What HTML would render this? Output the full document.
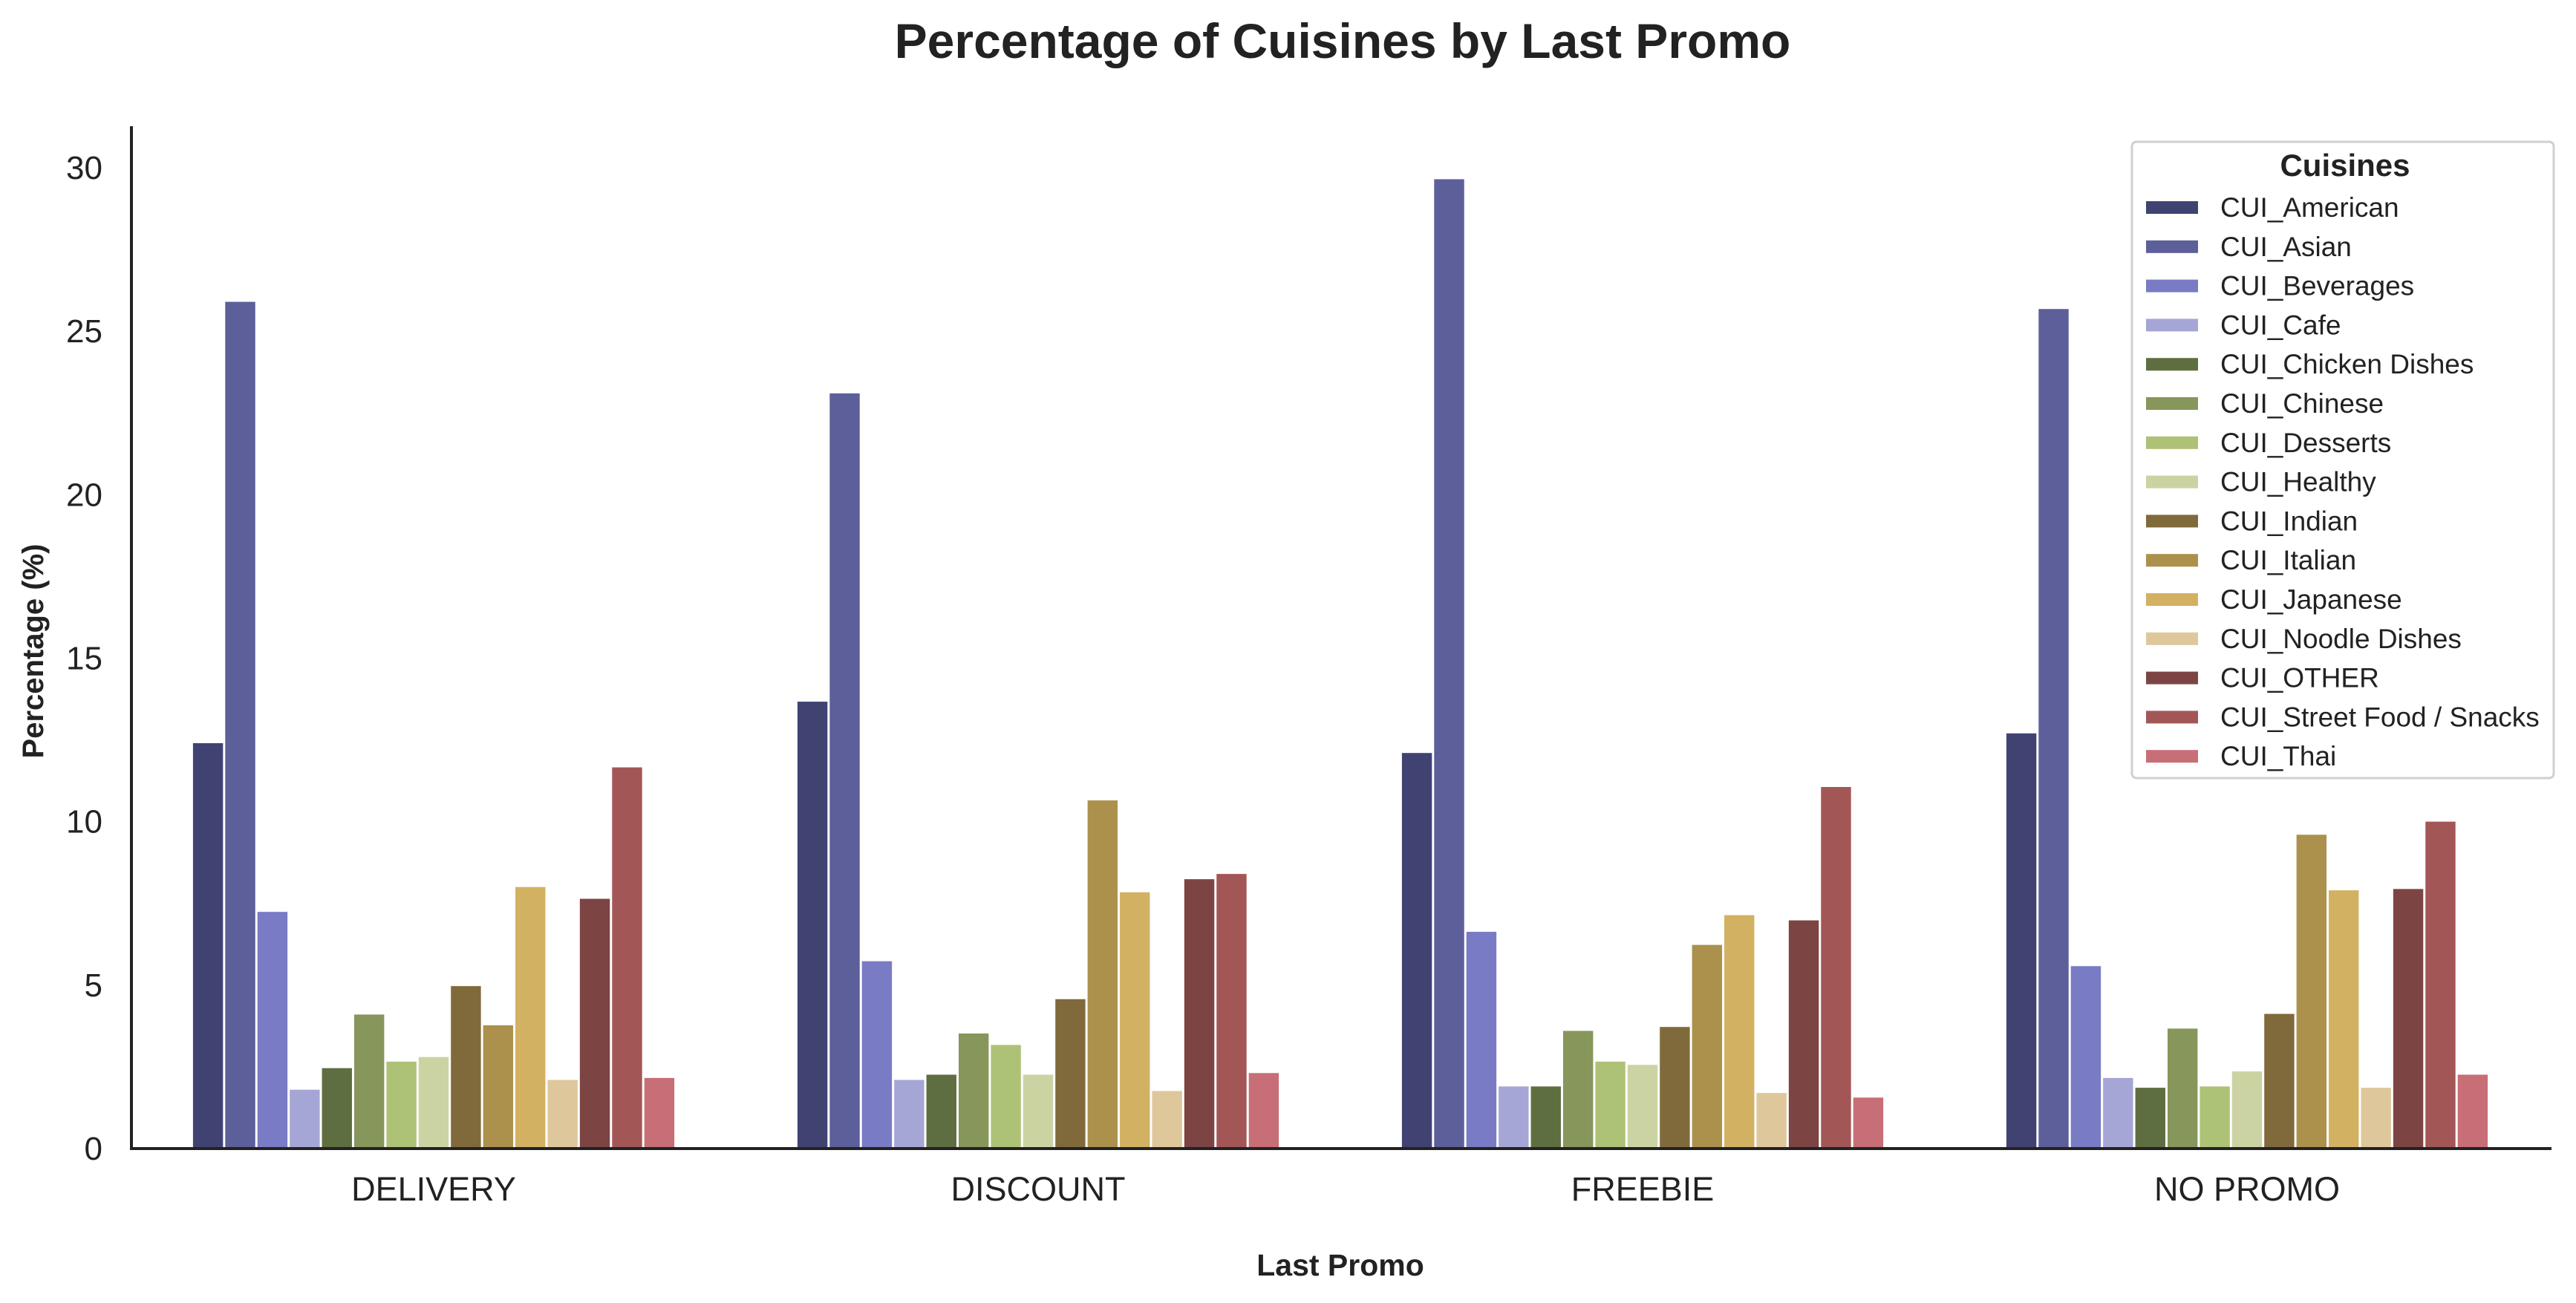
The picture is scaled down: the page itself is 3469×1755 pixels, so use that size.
<!DOCTYPE html>
<html><head><meta charset="utf-8"><style>
html,body{margin:0;padding:0;background:#fff;}
svg{display:block;font-family:"Liberation Sans",Arial,sans-serif;}
</style></head><body>
<svg id="chart" width="3469" height="1755" viewBox="0 0 3469 1755">
<text x="1808" y="78" text-anchor="middle" font-size="66" font-weight="bold" fill="#222">Percentage of Cuisines by Last Promo</text>
<g id="bars"></g>
<g id="yaxis"></g>
<g id="xaxis"></g>
<text transform="translate(58,877) rotate(-90)" text-anchor="middle" font-size="40" font-weight="bold" fill="#222">Percentage (%)</text>
<text x="1805" y="1718" text-anchor="middle" font-size="41" font-weight="bold" fill="#222">Last Promo</text>
<g id="legend"></g>
</svg>
<script>
const categories = ["DELIVERY","DISCOUNT","FREEBIE","NO PROMO"];
const cuisines = ["CUI_American","CUI_Asian","CUI_Beverages","CUI_Cafe","CUI_Chicken Dishes","CUI_Chinese","CUI_Desserts","CUI_Healthy","CUI_Indian","CUI_Italian","CUI_Japanese","CUI_Noodle Dishes","CUI_OTHER","CUI_Street Food / Snacks","CUI_Thai"];
const colors = ["#404372","#5c5f99","#797bc4","#a5a6d6","#5f6e40","#87965a","#aec277","#cbd3a2","#806a3b","#ab914c","#d3b163","#dec89b","#7c4543","#a25756","#c76e76"];
const deliveryValues = [12.4,25.9,7.24,1.8,2.46,4.1,2.66,2.8,4.97,3.77,8.0,2.1,7.64,11.66,2.16];
const discountValues = [13.67,23.1,5.73,2.1,2.26,3.52,3.17,2.26,4.57,10.65,7.84,1.76,8.24,8.4,2.31];
const freebieValues = [12.1,29.65,6.63,1.9,1.9,3.6,2.66,2.56,3.72,6.23,7.14,1.7,6.98,11.06,1.56];
const noPromoValues = [12.7,25.68,5.58,2.16,1.86,3.67,1.9,2.36,4.12,9.6,7.9,1.86,7.94,10.0,2.26];
const yTicks = [0,5,10,15,20,25,30];

const seriesByCat = [deliveryValues,discountValues,freebieValues,noPromoValues];
const NS="http://www.w3.org/2000/svg";
const X0=177, X1=3433, Y0=1547, YTOP=170;
const yPerUnit=(1547-226)/30;
const catW=(X1-X0)/categories.length;
function yScale(v){return Y0 - v*yPerUnit;}
function xCenter(i){return X0 + (i+0.5)*catW;}
function mk(tag,attrs,parent){const e=document.createElementNS(NS,tag);for(const k in attrs)e.setAttribute(k,attrs[k]);parent.appendChild(e);return e;}

const bars=document.getElementById('bars');
const groupW=catW*0.8, bw=groupW/cuisines.length;
seriesByCat.forEach((vals,ci)=>{
  vals.forEach((v,si)=>{
    const x=xCenter(ci)-groupW/2+si*bw;
    const r=mk('rect',{x:x+1.5,y:yScale(v),width:bw-3,height:Y0-yScale(v),fill:colors[si]},bars);
    
    
  });
});

const ya=document.getElementById('yaxis');
yTicks.forEach(t=>{
  const tx=mk('text',{x:138,y:yScale(t)+15,'text-anchor':'end','font-size':'44',fill:'#222'},ya);
  tx.textContent=t;
  
  
});
const ls=mk('line',{x1:X0,y1:YTOP,x2:X0,y2:Y0+2,stroke:'#222','stroke-width':4},ya);



const xa=document.getElementById('xaxis');
const bs=mk('line',{x1:X0-2,y1:Y0,x2:3436,y2:Y0,stroke:'#222','stroke-width':4},xa);


categories.forEach((c,i)=>{
  const tx=mk('text',{x:xCenter(i),y:1617,'text-anchor':'middle','font-size':'45',fill:'#222'},xa);
  tx.textContent=c;
  
  
});

const lg=document.getElementById('legend');
const box=mk('rect',{x:2871,y:191,width:568,height:857,rx:6,fill:'#fff',stroke:'#d0d0d0','stroke-width':3},lg);


const lt=mk('text',{x:3158,y:237,'text-anchor':'middle','font-size':'42','font-weight':'bold',fill:'#222'},lg);
lt.textContent='Cuisines';


cuisines.forEach((c,i)=>{
  const y=279+i*52.8;
  const g=mk('g',{},lg);
  
  
  mk('rect',{x:2890,y:y-8,width:70,height:17,fill:colors[i]},g);
  const t=mk('text',{x:2990,y:y+13,'font-size':'37',fill:'#222'},g);
  t.textContent=c;
});
</script>
</body></html>
